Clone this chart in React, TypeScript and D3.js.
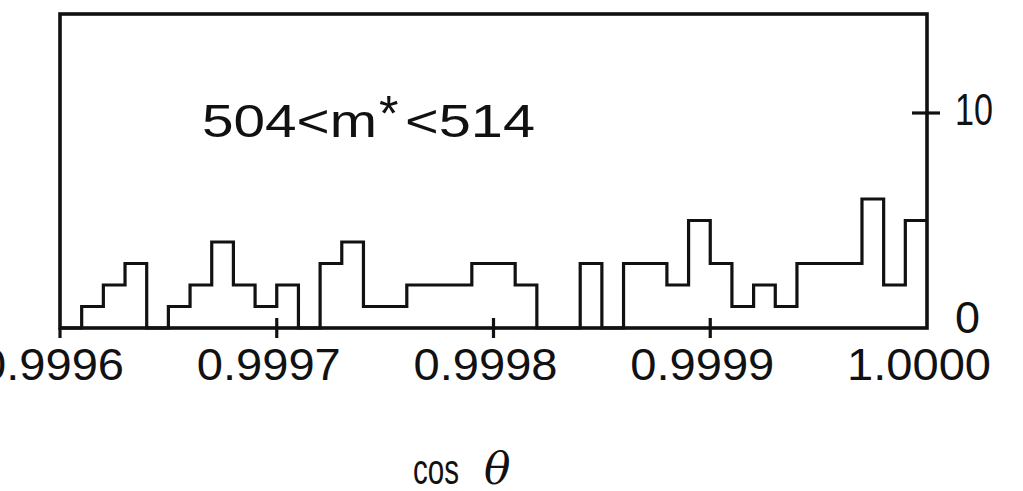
import React from "react";
import * as d3 from "d3";

// Histogram of cos θ for 504 < m* < 514 (bin width 0.00001)
const binStart = 0.9996;
const binWidth = 0.00001;
const counts = [
  0, 1, 2, 3, 0, 1, 2, 4, 2, 1,
  2, 0, 3, 4, 1, 1, 2, 2, 2, 3,
  3, 2, 0, 0, 3, 0, 3, 3, 2, 5,
  3, 1, 2, 1, 3, 3, 3, 6, 2, 5,
];
const xTicks = [0.9996, 0.9997, 0.9998, 0.9999, 1.0];
const xTickLabels = ["0.9996", "0.9997", "0.9998", "0.9999", "1.0000"];
const yTicks = [0, 10];
const yTickLabels = ["0", "10"];
const xDomain = [0.9996, 1.0];
const yDomain = [0, 10];

const W = 1023;
const H = 491;
const FONT = "'Liberation Sans', Arial, sans-serif";

export default function App() {
  const x = d3.scaleLinear().domain(xDomain).range([60, 927]);
  const y = d3.scaleLinear().domain(yDomain).range([328, 113]);

  const pts: [number, number][] = counts.map((c, i) => [binStart + i * binWidth, c]);
  pts.push([binStart + counts.length * binWidth, counts[counts.length - 1]]);
  const line = d3
    .line<[number, number]>()
    .x((d) => x(d[0]))
    .y((d) => y(d[1]))
    .curve(d3.curveStepAfter);
  const path = line(pts) || "";

  const [x0, x1] = x.range();
  const top = 14;
  const base = y(0);

  return (
    <svg
      width={W}
      height={H}
      viewBox={`0 0 ${W} ${H}`}
      style={{ position: "absolute", left: 0, top: 0, background: "#fff" }}
    >
      <rect x={0} y={0} width={W} height={H} fill="#fff" />
      {/* histogram */}
      <path d={path} fill="none" stroke="#111" strokeWidth={3.2} strokeLinejoin="miter" />
      {/* frame */}
      <rect
        x={x0}
        y={top}
        width={x1 - x0}
        height={base - top}
        fill="none"
        stroke="#111"
        strokeWidth={3.6}
      />
      {/* x ticks */}
      {xTicks.slice(0, 4).map((t, i) => (
        <line
          key={"xt" + i}
          x1={x(t)}
          x2={x(t)}
          y1={i === 0 ? base : base - 10}
          y2={base + 10}
          stroke="#111"
          strokeWidth={3.2}
        />
      ))}
      {xTicks.map((t, i) => (
        <text
          key={"xl" + i}
          x={x(t) - 8}
          y={380}
          textAnchor="middle"
          fontFamily={FONT}
          fontSize={44}
          textLength={144}
          lengthAdjust="spacingAndGlyphs"
          fill="#111"
        >
          {xTickLabels[i]}
        </text>
      ))}
      {/* right y ticks */}
      {yTicks.slice(1).map((t, i) => (
        <line
          key={"yt" + i}
          x1={x1 - 15}
          x2={x1 + 13}
          y1={y(t)}
          y2={y(t)}
          stroke="#111"
          strokeWidth={3.2}
        />
      ))}
      {yTicks.map((t, i) => (
        <text
          key={"yl" + i}
          x={955}
          y={y(t) + (t === 0 ? 5 : 12)}
          textAnchor="start"
          fontFamily={FONT}
          fontSize={44}
          textLength={t === 0 ? 25 : 38}
          lengthAdjust="spacingAndGlyphs"
          fill="#111"
        >
          {yTickLabels[i]}
        </text>
      ))}
      {/* annotation */}
      <text
        x={202}
        y={137}
        fontFamily={FONT}
        fontSize={47}
        textLength={175}
        lengthAdjust="spacingAndGlyphs"
        fill="#111"
      >
        504&lt;m
      </text>
      <text x={379} y={131} fontFamily={FONT} fontSize={50} fill="#111">
        *
      </text>
      <text
        x={405}
        y={137}
        fontFamily={FONT}
        fontSize={47}
        textLength={130}
        lengthAdjust="spacingAndGlyphs"
        fill="#111"
      >
        &lt;514
      </text>
      {/* axis title */}
      <text
        x={413}
        y={484}
        fontFamily={FONT}
        fontSize={42}
        textLength={46}
        lengthAdjust="spacingAndGlyphs"
        fill="#111"
      >
        cos
      </text>
      <text
        x={484}
        y={484}
        fontFamily="'DejaVu Serif', serif"
        fontStyle="italic"
        fontSize={44}
        fill="#111"
      >
        θ
      </text>
    </svg>
  );
}
